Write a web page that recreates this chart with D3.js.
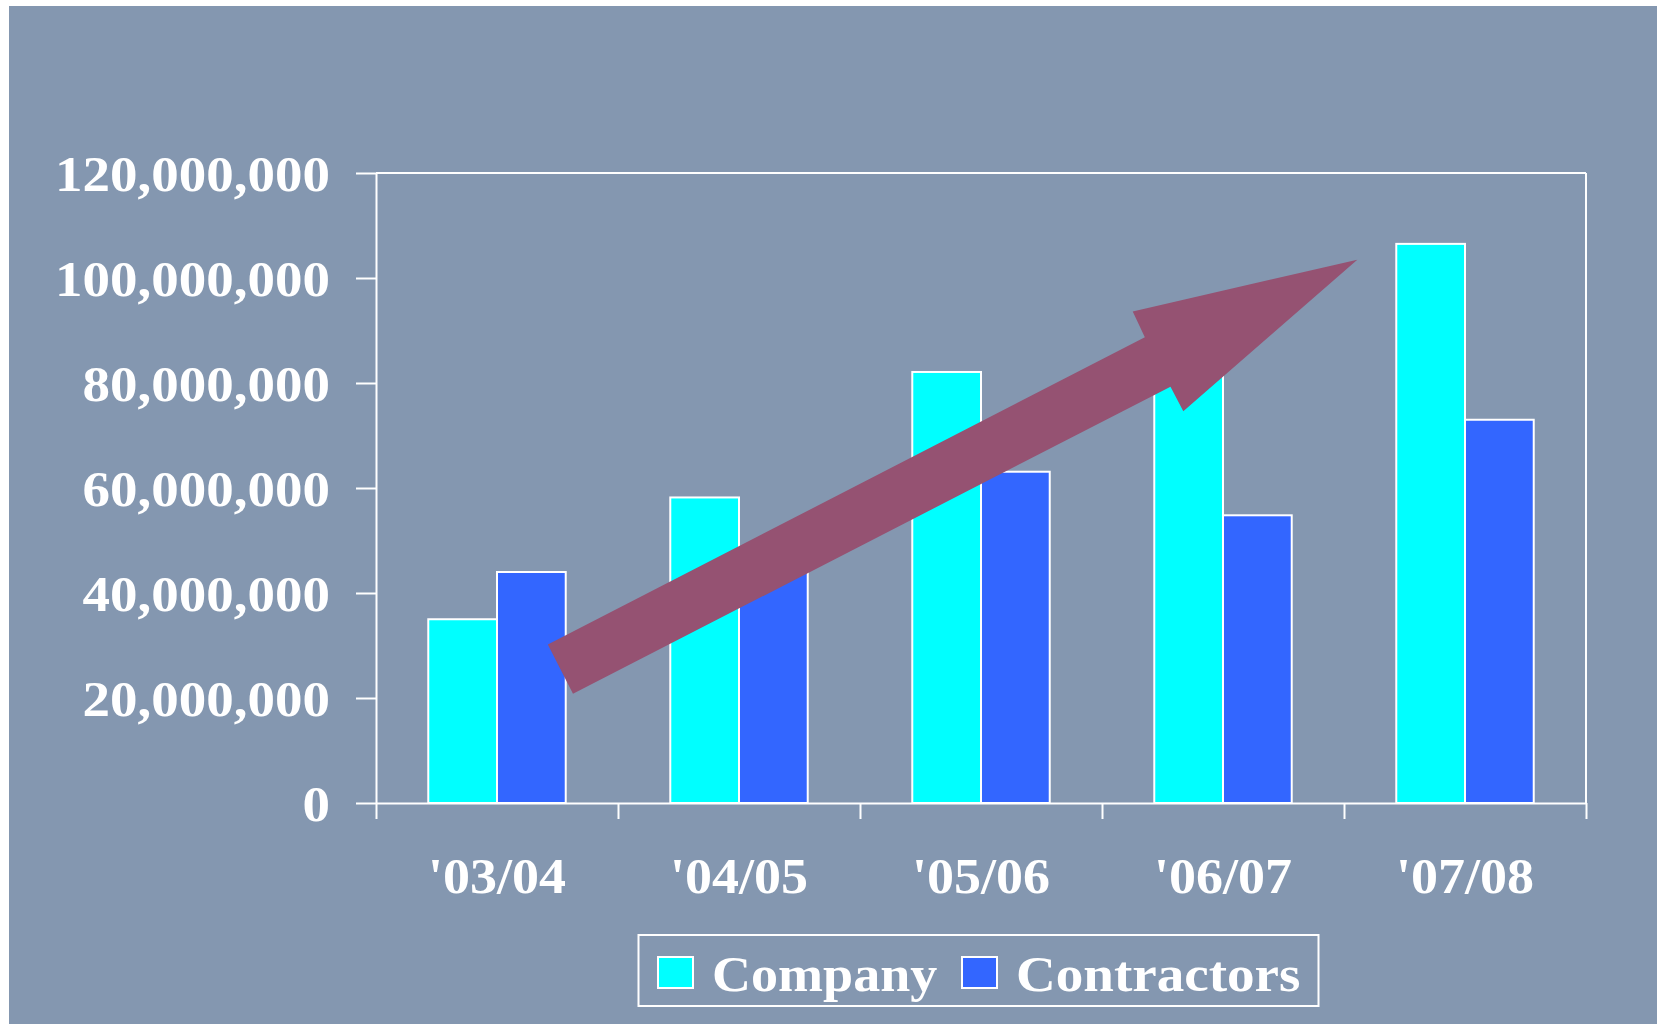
<!DOCTYPE html>
<html>
<head>
<meta charset="utf-8">
<script src="https://cdn.jsdelivr.net/npm/d3@7"></script>
<style>
  html, body { margin: 0; padding: 0; background: #ffffff; }
  svg { display: block; }
</style>
</head>
<body>
<div id="chart"></div>
<script>
// data
const seasons = ["'03/04", "'04/05", "'05/06", "'06/07", "'07/08"];
const company = [35000000, 58200000, 82100000, 88000000, 106500000];
const contractors = [44000000, 47000000, 63100000, 54800000, 73000000];
const seriesNames = ["Company", "Contractors"];
const yTicks = [0, 20000000, 40000000, 60000000, 80000000, 100000000, 120000000];
// trend arrow, in chart units (x = category position 0..5, y = value)
const arrowU = [0.710, 3.177, 3.127, 4.055, 3.336, 3.283, 0.814];
const arrowV = [30.2e6, 88.7e6, 93.6e6, 103.5e6, 74.6e6, 79.3e6, 20.8e6];

const W = 1657, H = 1025;
const margin = {top: 173, right: 71, bottom: 222, left: 376};
const colors = ["#00FFFF", "#3366FF"];
const bg = "#8497B0";
const fontFam = "'Liberation Serif', 'Times New Roman', serif";

// stretch text a bit wider, the original font is set wide
function stretch(sel, k) {
    sel.each(function() {
        const len = this.getComputedTextLength();
        d3.select(this).attr("textLength", len * k).attr("lengthAdjust", "spacingAndGlyphs");
    });
}

const svg = d3.select("#chart").append("svg")
    .attr("width", W)
    .attr("height", H);

svg.append("rect")
    .attr("x", 9).attr("y", 6)
    .attr("width", W - 9).attr("height", H - 7)
    .attr("fill", bg);

const x0 = d3.scaleBand()
    .domain(seasons)
    .range([margin.left, W - margin.right])
    .paddingInner(0.432)
    .paddingOuter(0.216);

const x1 = d3.scaleBand()
    .domain(seriesNames)
    .range([0, x0.bandwidth()]);

const xLin = d3.scaleLinear()
    .domain([0, seasons.length])
    .range([margin.left, W - margin.right]);

const y = d3.scaleLinear()
    .domain([0, 120000000])
    .range([H - margin.bottom - 0, margin.top]);

// bars
const rows = seasons.map((s, i) => ({season: s, values: [company[i], contractors[i]]}));

const groups = svg.selectAll("g.grp")
    .data(rows)
    .join("g")
    .attr("class", "grp")
    .attr("transform", d => `translate(${x0(d.season)},0)`);

groups.selectAll("rect")
    .data(d => d.values.map((v, j) => ({name: seriesNames[j], v: v, j: j})))
    .join("rect")
    .attr("x", d => x1(d.name))
    .attr("y", d => y(d.v))
    .attr("width", x1.bandwidth())
    .attr("height", d => y(0) - y(d.v))
    .attr("fill", d => colors[d.j])
    .attr("stroke", "#ffffff")
    .attr("stroke-width", 2);

// y axis
const yAxis = svg.append("g")
    .attr("transform", `translate(${margin.left},0)`)
    .call(d3.axisLeft(y).tickValues(yTicks).tickFormat(d3.format(",")).tickSize(20).tickSizeOuter(0).tickPadding(26));
yAxis.select(".domain").attr("stroke", "#fff").attr("stroke-width", 2);
yAxis.selectAll(".tick line").attr("stroke", "#fff").attr("stroke-width", 2);
yAxis.selectAll("text")
    .attr("fill", "#fff")
    .attr("font-family", fontFam)
    .attr("font-weight", "bold")
    .attr("font-size", 50)
    .attr("dy", "0.34em")
    .call(stretch, 1.1);

// x axis ticks at category edges
const xTickAxis = svg.append("g")
    .attr("transform", `translate(0,${y(0)})`)
    .call(d3.axisBottom(xLin).tickValues(d3.range(seasons.length + 1)).tickFormat("").tickSize(16).tickSizeOuter(0));
xTickAxis.select(".domain").attr("stroke", "#fff").attr("stroke-width", 2);
xTickAxis.selectAll(".tick line").attr("stroke", "#fff").attr("stroke-width", 2);

// x labels
const xAxis = svg.append("g")
    .attr("transform", `translate(0,${y(0)})`)
    .call(d3.axisBottom(x0).tickSize(0).tickPadding(54));
xAxis.select(".domain").remove();
xAxis.selectAll("text")
    .attr("fill", "#fff")
    .attr("font-family", fontFam)
    .attr("font-weight", "bold")
    .attr("font-size", 50)
    .call(stretch, 1.08);

// frame top and right
svg.append("line")
    .attr("x1", margin.left).attr("x2", W - margin.right)
    .attr("y1", y(120000000)).attr("y2", y(120000000))
    .attr("stroke", "#fff").attr("stroke-width", 2);
svg.append("line")
    .attr("x1", W - margin.right).attr("x2", W - margin.right)
    .attr("y1", y(120000000)).attr("y2", y(0))
    .attr("stroke", "#fff").attr("stroke-width", 2);

// trend arrow
const arrowPts = arrowU.map((u, i) => [xLin(u), y(arrowV[i])]);
svg.append("path")
    .attr("d", d3.line()(arrowPts) + "Z")
    .attr("fill", "#955272");

// legend
const leg = svg.append("g");
leg.append("rect")
    .attr("x", 638.5).attr("y", 935)
    .attr("width", 680).attr("height", 71)
    .attr("fill", "none")
    .attr("stroke", "#fff").attr("stroke-width", 2);

const legX = [658, 962];
const legTextX = [712, 1016];
seriesNames.forEach((name, i) => {
    leg.append("rect")
        .attr("x", legX[i]).attr("y", 957)
        .attr("width", 35).attr("height", 31)
        .attr("fill", colors[i])
        .attr("stroke", "#fff").attr("stroke-width", 2);
    leg.append("text")
        .attr("x", legTextX[i]).attr("y", 991)
        .attr("fill", "#fff")
        .attr("font-family", fontFam)
        .attr("font-weight", "bold")
        .attr("font-size", 51)
        .text(name)
        .call(stretch, i === 0 ? 1.06 : 1.08);
});
</script>
</body>
</html>
